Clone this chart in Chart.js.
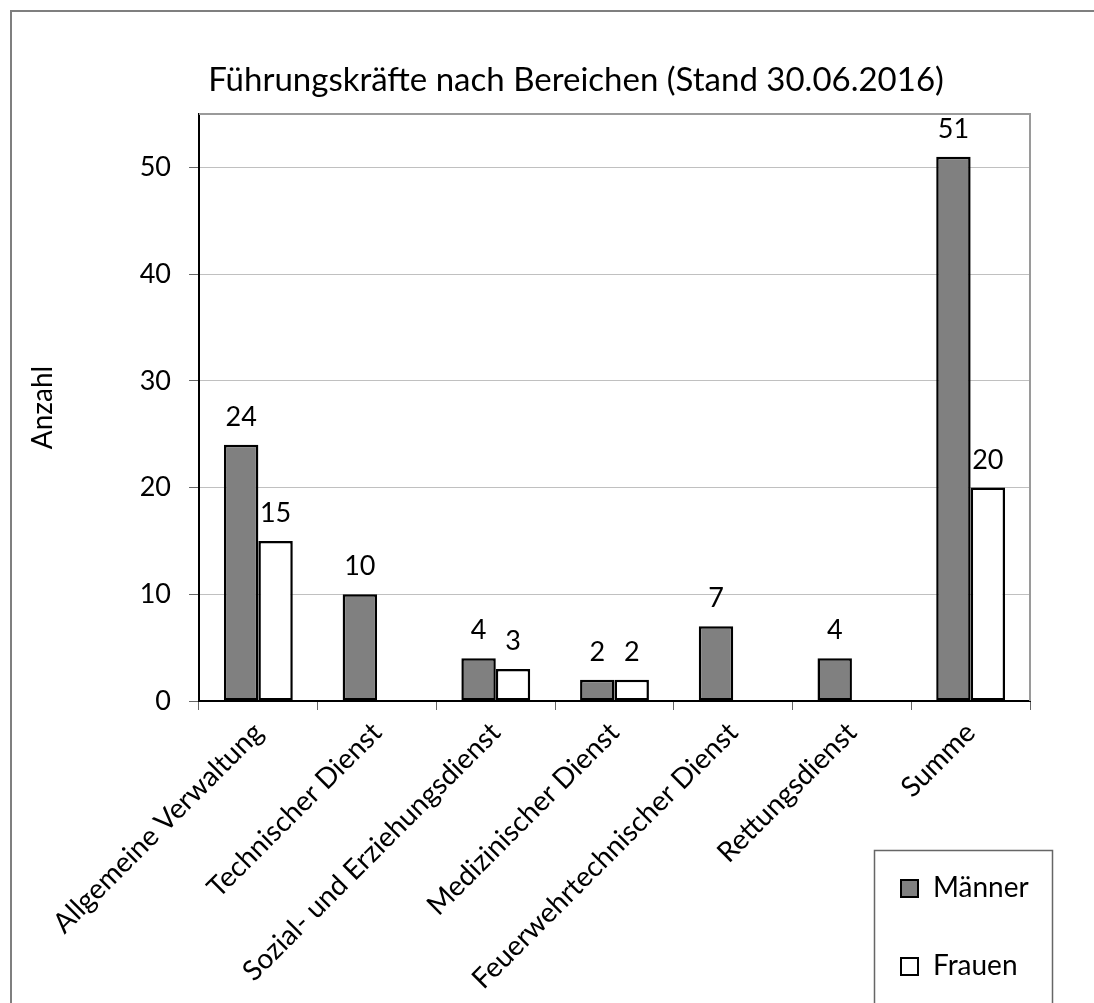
<!DOCTYPE html>
<html>
<head>
<meta charset="utf-8">
<script src="https://cdn.jsdelivr.net/npm/chart.js@4.4.0/dist/chart.umd.min.js"></script>
<style>
  html, body { margin: 0; padding: 0; background: #ffffff; }
  #wrap { width: 1094px; height: 1003px; position: relative; }
</style>
</head>
<body>
<div id="wrap"><canvas id="c" width="1094" height="1003"></canvas></div>
<script>
// Leaders per division, as of 30.06.2016
const categories = [
  'Allgemeine Verwaltung',
  'Technischer Dienst',
  'Sozial- und Erziehungsdienst',
  'Medizinischer Dienst',
  'Feuerwehrtechnischer Dienst',
  'Rettungsdienst',
  'Summe'
];
const seriesNames = ['Männer', 'Frauen'];
const maenner = [24, 10, 4, 2, 7, 4, 51];
const frauen = [15, null, 3, 2, null, null, 20];
const yTicks = [0, 10, 20, 30, 40, 50];
const yMax = 55;
const titleText = 'Führungskräfte nach Bereichen (Stand 30.06.2016)';
const yTitle = 'Anzahl';

const FONT = 'Lato, "Open Sans", sans-serif';
const seriesFill = ['#808080', '#ffffff'];

// Outer frame, plot-area frame and the centred title
const framePlugin = {
  id: 'frame',
  beforeDraw(chart) {
    const ctx = chart.ctx;
    ctx.save();
    ctx.fillStyle = '#ffffff';
    ctx.fillRect(0, 0, chart.width, chart.height);
    ctx.strokeStyle = '#7f7f7f';
    ctx.lineWidth = 2;
    ctx.beginPath();
    ctx.moveTo(11, chart.height);
    ctx.lineTo(11, 11);
    ctx.lineTo(chart.width, 11);
    ctx.stroke();
    ctx.restore();
  },
  beforeDatasetsDraw(chart) {
    const { ctx, chartArea: a } = chart;
    ctx.save();
    ctx.strokeStyle = '#9a9a9a';
    ctx.lineWidth = 2;
    ctx.beginPath();
    ctx.moveTo(a.left, a.top);
    ctx.lineTo(a.right, a.top);
    ctx.lineTo(a.right, a.bottom);
    ctx.stroke();
    ctx.restore();
  },
  afterDraw(chart) {
    const ctx = chart.ctx;
    ctx.save();
    ctx.fillStyle = '#000000';
    ctx.font = '33px ' + FONT;
    ctx.textAlign = 'center';
    ctx.textBaseline = 'alphabetic';
    ctx.fillText(titleText, 576, 91);
    ctx.restore();
  }
};

// Value labels above each bar
const valueLabelPlugin = {
  id: 'valueLabels',
  afterDatasetsDraw(chart) {
    const ctx = chart.ctx;
    ctx.save();
    ctx.fillStyle = '#000000';
    ctx.font = '27px ' + FONT;
    ctx.textAlign = 'center';
    ctx.textBaseline = 'alphabetic';
    chart.data.datasets.forEach((ds, di) => {
      const meta = chart.getDatasetMeta(di);
      meta.data.forEach((el, i) => {
        const v = ds.data[i];
        if (v === null || v === undefined) return;
        ctx.fillText(String(v), el.x, el.y - 19);
      });
    });
    ctx.restore();
  }
};

// Boxed legend in the lower right corner
const boxLegendPlugin = {
  id: 'boxLegend',
  afterDraw(chart) {
    const ctx = chart.ctx;
    ctx.save();
    ctx.strokeStyle = '#666666';
    ctx.lineWidth = 1.5;
    ctx.strokeRect(874.5, 850.5, 178, 170);
    ctx.font = '28px ' + FONT;
    ctx.textAlign = 'left';
    ctx.textBaseline = 'alphabetic';
    const rows = [879, 957];
    chart.data.datasets.forEach((ds, di) => {
      const y = rows[di];
      ctx.fillStyle = ds.backgroundColor;
      ctx.fillRect(901, y + 1, 17, 17);
      ctx.strokeStyle = '#000000';
      ctx.lineWidth = 2;
      ctx.strokeRect(901, y + 1, 17, 17);
      ctx.fillStyle = '#000000';
      ctx.fillText(ds.label, 933, y + 18);
    });
    ctx.restore();
  }
};

new Chart(document.getElementById('c'), {
  type: 'bar',
  data: {
    labels: categories,
    datasets: [
      {
        label: seriesNames[0],
        data: maenner,
        backgroundColor: seriesFill[0],
        borderColor: '#000000',
        borderWidth: 2.5,
        borderSkipped: false,
        categoryPercentage: 0.58,
        barPercentage: 1.0
      },
      {
        label: seriesNames[1],
        data: frauen,
        backgroundColor: seriesFill[1],
        borderColor: '#000000',
        borderWidth: 2.5,
        borderSkipped: false,
        categoryPercentage: 0.58,
        barPercentage: 1.0
      }
    ]
  },
  options: {
    responsive: false,
    animation: false,
    devicePixelRatio: 1,
    layout: { padding: { left: 11, top: 114, right: 64, bottom: 0 } },
    plugins: {
      legend: { display: false },
      title: { display: false },
      tooltip: { enabled: false }
    },
    scales: {
      x: {
        offset: true,
        grid: {
          offset: true,
          drawOnChartArea: false,
          tickLength: 9,
          tickColor: '#666666',
          tickWidth: 1
        },
        border: { color: '#000000', width: 2 },
        ticks: {
          autoSkip: false,
          minRotation: 45,
          maxRotation: 45,
          padding: 6,
          color: '#000000',
          font: { family: FONT, size: 28 }
        },
        afterFit(scale) { scale.height = 302; }
      },
      y: {
        min: 0,
        max: yMax,
        afterBuildTicks(scale) { scale.ticks = yTicks.map(v => ({ value: v })); },
        grid: {
          color: '#c0c0c0',
          lineWidth: 1,
          tickLength: 10,
          tickColor: '#666666'
        },
        border: { color: '#000000', width: 2 },
        ticks: {
          padding: 18,
          color: '#000000',
          font: { family: FONT, size: 27 }
        },
        title: {
          display: true,
          text: yTitle,
          color: '#000000',
          font: { family: FONT, size: 28 },
          padding: { top: 15, bottom: 0 }
        },
        afterFit(scale) { scale.width = 188; }
      }
    }
  },
  plugins: [framePlugin, valueLabelPlugin, boxLegendPlugin]
});
</script>
</body>
</html>
